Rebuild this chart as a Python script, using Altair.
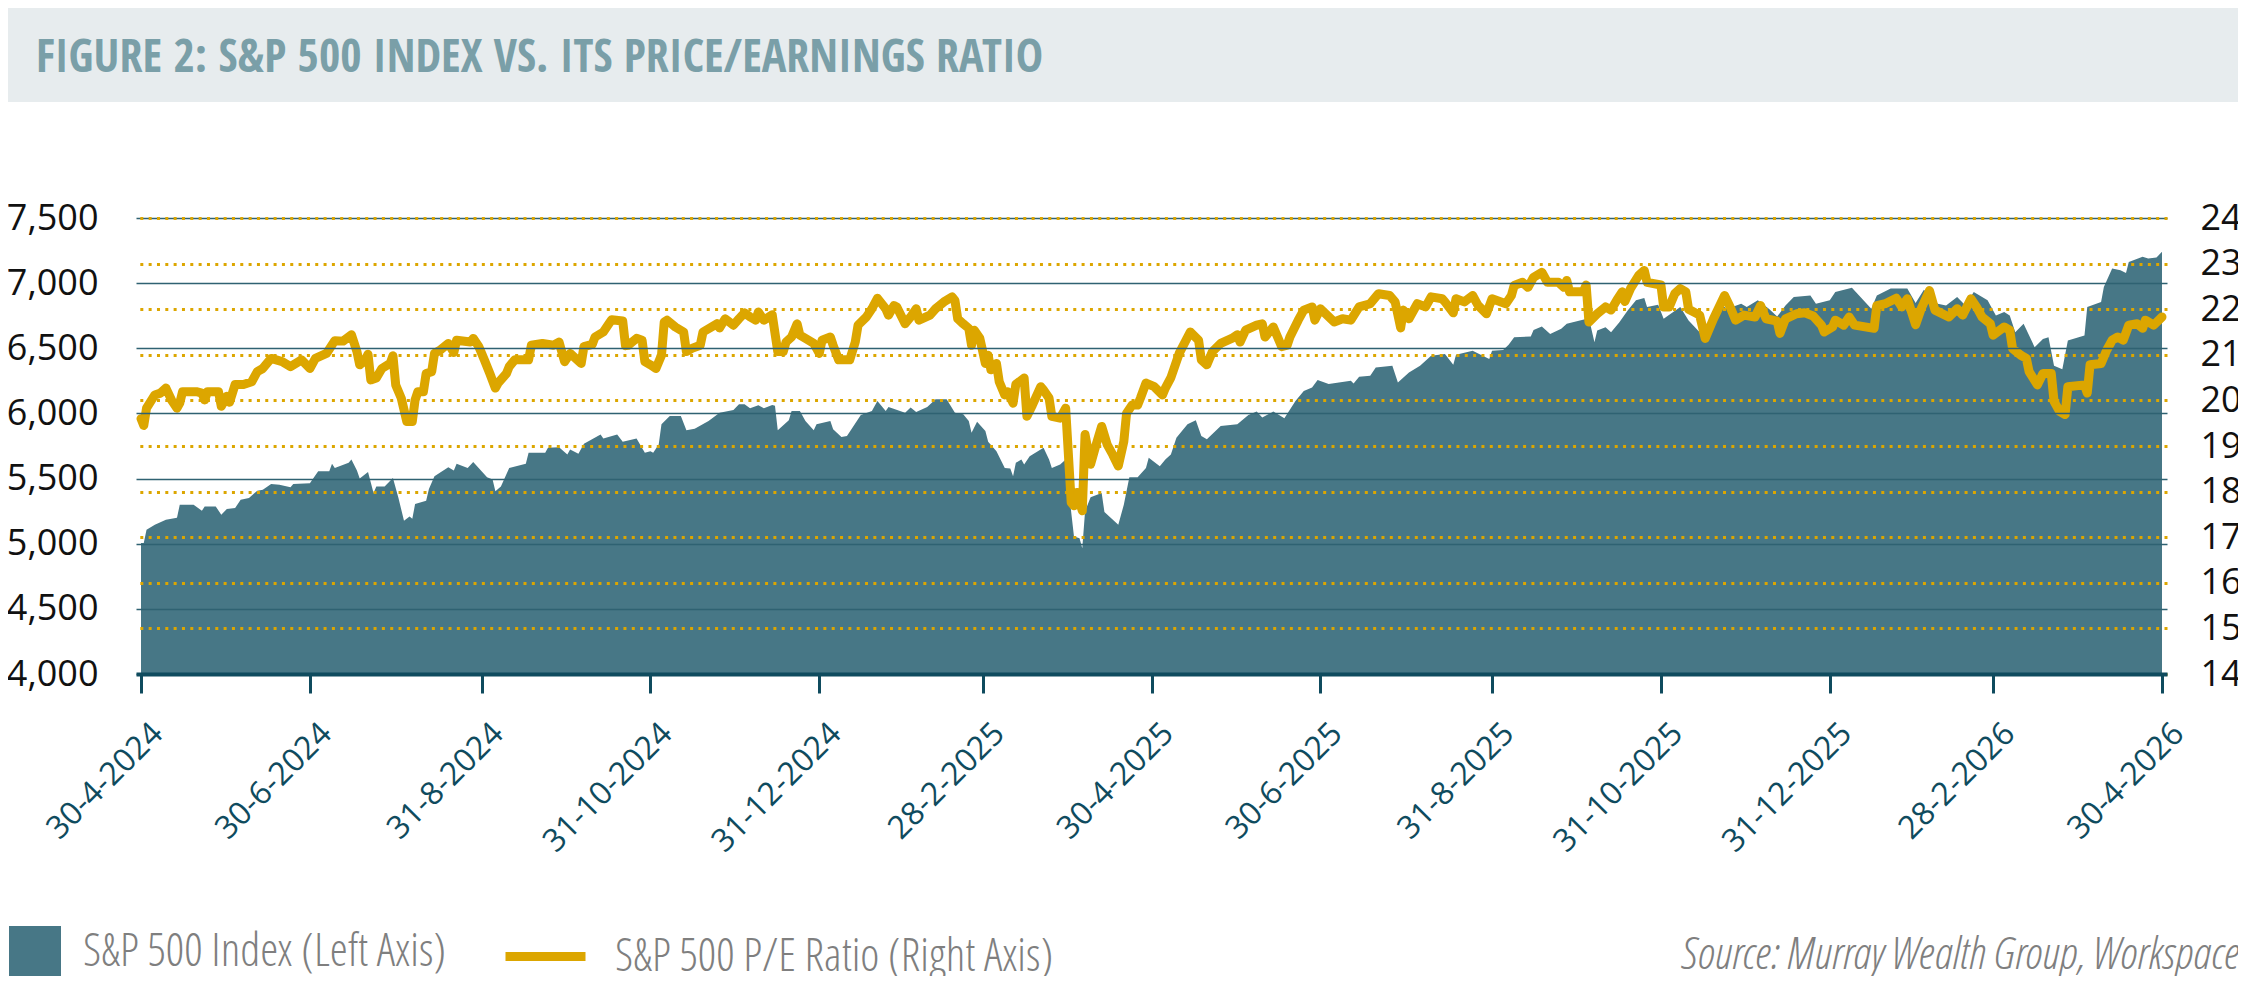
import altair as alt
import pandas as pd

START = "2024-04-30"

# ---- S&P 500 Index (left axis): days after 30-4-2024 and index level ----
idx_days = [0, 1, 2, 5, 9, 13, 14, 19, 22, 23, 27, 29, 31, 34, 36, 39, 42, 44, 47, 50,
            54, 55, 61, 64, 68, 69, 70, 75, 76, 78, 79, 82, 84, 85, 88, 91, 93, 95, 97, 98,
            99, 103, 104, 106, 111, 113, 114, 118, 120, 125, 127, 128, 130, 133, 139, 140, 146, 147, 151, 154,
            155, 158, 160, 166, 167, 172, 174, 179, 182,
            184, 185, 187, 188, 191, 195, 197, 200, 205, 209, 214, 216, 218, 220, 223, 225, 228, 229, 230, 234,
            235, 238, 240, 243, 244, 249, 250, 253, 255, 260, 264, 266, 269, 270, 276, 278, 280, 284, 287, 291,
            294, 297, 299, 300, 302, 305, 306, 309, 312, 314, 315, 316, 318, 319, 321, 326, 328, 329, 332, 334,
            335, 337, 339, 340, 341, 343, 347, 348, 353, 355, 357, 360, 363, 364, 368, 370,
            372, 374, 378, 381, 383, 385, 390, 396, 400, 403, 405, 409, 413, 417, 420, 423, 425, 429, 437, 438,
            440, 444, 446, 452, 454, 458, 462, 466, 471, 474, 475, 481, 487, 488, 492, 494, 496, 502, 503, 506,
            509, 513, 515, 523, 525, 526, 529, 531, 534, 537, 540, 543, 544, 548, 550, 556, 559,
            563, 565, 567, 571, 573, 578, 580, 584, 588, 591, 594, 597, 603, 605, 610, 612, 618, 620, 625, 627,
            632, 638, 641, 644, 649, 652, 656, 659, 662, 667, 670, 673, 675, 677, 680, 684, 687, 689, 691, 694,
            696, 702, 703, 708, 709, 712, 715, 717, 718, 723, 725, 728, 730]
idx_vals = [5005, 5005, 5107, 5145, 5183, 5200, 5299, 5299, 5253, 5286, 5286, 5222, 5266, 5274, 5338, 5350, 5407, 5415, 5459, 5453,
            5433, 5459, 5464, 5556, 5556, 5613, 5582, 5621, 5646, 5561, 5500, 5551, 5389, 5440, 5440, 5505, 5350, 5176, 5209, 5191,
            5304, 5330, 5420, 5518, 5587, 5561, 5613, 5582, 5628, 5510, 5492, 5402, 5440, 5582, 5613, 5698, 5698, 5736, 5741, 5685,
            5723, 5690, 5767, 5839, 5808, 5839, 5783, 5808, 5698,
            5710, 5698, 5762, 5916, 5981, 5981, 5870, 5883, 5942, 6006, 6027, 6070, 6070, 6040, 6063, 6040, 6065, 6058, 5870, 5947,
            6019, 6019, 5942, 5870, 5916, 5942, 5878, 5819, 5826, 5988, 6019, 6096, 6019, 6050, 6006, 6045, 6011, 6050, 6109, 6109,
            6006, 5993, 5942, 5852, 5937, 5865, 5783, 5710, 5582, 5577, 5518, 5621, 5646, 5608, 5672, 5736, 5646, 5582, 5608, 5646,
            5428, 5055, 5042, 4965, 5248, 5356, 5389, 5243, 5145, 5299, 5510, 5510, 5582, 5659, 5595, 5646,
            5685, 5813, 5916, 5947, 5826, 5801, 5904, 5916, 5988, 6014, 5968, 6014, 5963, 6096, 6173, 6199, 6256, 6225, 6250, 6230,
            6281, 6289, 6353, 6366, 6238, 6315, 6366, 6443, 6456, 6374, 6451, 6482, 6418, 6482, 6487, 6528, 6585, 6590, 6641, 6667,
            6610, 6649, 6688, 6731, 6546, 6636, 6662, 6623, 6700, 6790, 6868, 6886, 6816, 6834, 6726, 6816, 6713,
            6623, 6546, 6636, 6829, 6803, 6842, 6816, 6868, 6803, 6744, 6829, 6893, 6906, 6842, 6868, 6932, 6965, 6919, 6803, 6906,
            6958, 6958, 6847, 6950, 6842, 6829, 6893, 6829, 6932, 6868, 6752, 6778, 6752, 6623, 6688, 6508, 6572, 6585, 6366, 6340,
            6559, 6598, 6816, 6855, 6970, 7112, 7099, 7078, 7163, 7202, 7189, 7197, 7240]

# ---- S&P 500 P/E ratio (right axis): days after 30-4-2024 and ratio ----
pe_days = [0, 1, 2, 5, 7, 9, 11, 13, 14, 15, 20, 22, 23, 24, 28, 29, 31, 32, 34, 37,
           40, 42, 44, 47, 51, 54, 58, 61, 63, 67, 70, 73, 76, 78, 79, 81, 82, 83, 85, 87,
           90, 91, 92, 94, 96, 98, 99, 100, 102, 103, 105, 106, 108, 111, 113, 114, 119, 120, 122, 124,
           126, 128, 129, 132, 133, 135, 140, 141, 145, 149, 151, 153, 155, 159, 160, 163, 164, 167, 169, 170,
           174, 175, 176, 179, 181, 182,
           184, 186, 188, 189, 190, 193, 196, 197, 199, 202, 203, 208, 209, 211, 214, 216, 218, 220, 222, 223,
           225, 228, 230, 232, 233, 235, 237, 238, 240, 243, 245, 246, 249, 250, 252, 256, 258, 259, 262, 264,
           266, 269, 270, 272, 273, 276, 278, 280, 281, 285, 287, 290, 293, 294, 295, 297, 299, 300, 301, 303,
           305, 306, 307, 309, 310, 312, 313, 315, 316, 319, 320, 322, 325, 326, 328, 329, 332, 334, 336, 337,
           338, 340, 341, 343, 345, 347, 349, 351, 353, 355, 356, 358, 360, 361, 363, 366, 369, 370,
           372, 375, 379, 382, 383, 385, 387, 390, 394, 396, 397, 399, 403, 405, 406, 409, 412, 414, 415, 418,
           420, 423, 424, 426, 431, 434, 437, 440, 444, 447, 451, 453, 455, 456, 458, 461, 464, 466, 470, 471,
           474, 475, 478, 481, 483, 486, 488, 493, 495, 496, 499, 501, 503, 506, 508, 512, 514, 515, 516, 521,
           522, 523, 526, 529, 531, 533, 535, 536, 538, 541, 543, 544, 549, 550, 552, 554, 556, 558, 559,
           563, 565, 568, 572, 574, 576, 579, 583, 585, 587, 591, 592, 594, 598, 601, 604, 607, 608, 611, 612,
           615, 617, 619, 626, 627, 630, 634, 636, 638, 641, 643, 646, 648, 653, 656, 658, 661, 663, 665, 668,
           669, 673, 675, 676, 679, 681, 682, 685, 687, 690, 691, 693, 695, 696, 702, 703, 704, 708, 710, 712,
           714, 716, 718, 721, 723, 724, 727, 730]
pe_vals = [19.60, 19.45, 19.83, 20.12, 20.16, 20.27, 20.01, 19.83, 19.94, 20.19, 20.19, 20.16, 20.01, 20.19, 20.19, 19.87, 20.09, 19.96, 20.35, 20.35,
           20.41, 20.63, 20.70, 20.92, 20.85, 20.74, 20.89, 20.70, 20.92, 21.03, 21.31, 21.30, 21.44, 21.07, 20.78, 20.89, 21.01, 20.45, 20.49, 20.70,
           20.81, 20.98, 20.34, 20.05, 19.54, 19.54, 20.01, 20.19, 20.19, 20.59, 20.63, 21.03, 21.10, 21.25, 21.05, 21.32, 21.28, 21.36, 21.18, 20.89,
           20.59, 20.27, 20.38, 20.59, 20.74, 20.89, 20.89, 21.21, 21.25, 21.21, 21.28, 20.85, 21.03, 20.81, 21.18, 21.23, 21.39, 21.50, 21.68, 21.77,
           21.74, 21.20, 21.21, 21.36, 21.32, 20.85,
           20.78, 20.70, 20.99, 21.72, 21.76, 21.61, 21.50, 21.07, 21.14, 21.21, 21.50, 21.68, 21.59, 21.79, 21.65, 21.79, 21.92, 21.83, 21.76, 21.94,
           21.76, 21.88, 21.07, 21.07, 21.28, 21.39, 21.68, 21.43, 21.36, 21.25, 21.03, 21.32, 21.39, 21.21, 20.89, 20.89, 21.28, 21.65, 21.83, 22.01,
           22.24, 22.01, 21.87, 22.08, 22.05, 21.68, 21.83, 22.01, 21.76, 21.87, 22.01, 22.16, 22.27, 22.19, 21.79, 21.68, 21.58, 21.21, 21.54, 21.36,
           20.81, 20.99, 20.67, 20.81, 20.41, 20.12, 20.19, 19.94, 20.35, 20.49, 19.65, 19.90, 20.30, 20.23, 20.05, 19.65, 19.61, 19.83, 17.76, 17.69,
           17.98, 17.58, 19.25, 18.60, 19.03, 19.43, 19.03, 18.81, 18.56, 19.10, 19.72, 19.90, 19.90, 20.05, 20.38, 20.30, 20.12, 20.27,
           20.50, 21.03, 21.50, 21.32, 20.89, 20.78, 21.07, 21.25, 21.36, 21.44, 21.28, 21.54, 21.65, 21.68, 21.39, 21.61, 21.18, 21.21, 21.39, 21.76,
           21.98, 22.05, 21.76, 22.01, 21.72, 21.79, 21.76, 22.05, 22.12, 22.34, 22.30, 22.16, 21.59, 21.98, 21.79, 22.12, 22.05, 22.27, 22.23, 22.16,
           21.92, 22.23, 22.16, 22.30, 22.08, 21.90, 22.23, 22.12, 22.30, 22.52, 22.59, 22.48, 22.70, 22.81, 22.59, 22.59, 22.48, 22.63, 22.38, 22.39,
           22.53, 21.72, 21.90, 22.05, 21.98, 22.19, 22.38, 22.17, 22.45, 22.74, 22.85, 22.59, 22.53, 22.05, 22.05, 22.34, 22.45, 22.38, 22.00,
           21.87, 21.36, 21.79, 22.30, 22.05, 21.76, 21.87, 21.83, 22.08, 21.79, 21.74, 21.47, 21.79, 21.90, 21.92, 21.85, 21.65, 21.50, 21.61, 21.76,
           21.65, 21.83, 21.65, 21.58, 22.08, 22.12, 22.24, 22.05, 22.23, 21.66, 22.01, 22.41, 21.98, 21.83, 22.01, 21.87, 22.23, 22.05, 21.83, 21.68,
           21.43, 21.61, 21.54, 21.14, 20.99, 20.92, 20.63, 20.34, 20.59, 20.59, 19.98, 19.76, 19.69, 20.30, 20.34, 20.16, 20.78, 20.81, 21.10, 21.32,
           21.39, 21.32, 21.65, 21.68, 21.58, 21.76, 21.65, 21.83]

tick_dates = ["2024-04-30", "2024-06-30", "2024-08-31", "2024-10-31", "2024-12-31", "2025-02-28",
              "2025-04-30", "2025-06-30", "2025-08-31", "2025-10-31", "2025-12-31", "2026-02-28", "2026-04-30"]
left_ticks = [4000, 4500, 5000, 5500, 6000, 6500, 7000, 7500]
right_ticks = [14, 15, 16, 17, 18, 19, 20, 21, 22, 23, 24]

TITLE = "FIGURE 2: S&P 500 INDEX VS. ITS PRICE/EARNINGS RATIO"
IDX_LABEL = "S&P 500 Index (Left Axis)"
PE_LABEL = "S&P 500 P/E Ratio (Right Axis)"
SOURCE = "Source: Murray Wealth Group, Workspace"

# ---- styles ----
TEAL = "#477786"
GOLD = "#dca600"
GRID = "#2f6272"
AXIS = "#0f4b5e"
BAND = "#e7ecee"
TITLE_C = "#7a9fa8"
GRAY = "#7f7f7f"
COND = "'Open Sans Condensed', 'Liberation Sans Narrow', 'Open Sans', sans-serif"
COND_LIGHT = "'Open Sans Condensed Light', 'Liberation Sans Narrow', 'Open Sans Condensed', 'Open Sans', sans-serif"
BASE = "Open Sans"

start = pd.Timestamp(START)
idx_df = pd.DataFrame({
    "date": [(start + pd.Timedelta(days=d)).strftime("%Y-%m-%d") for d in idx_days],
    "value": idx_vals,
    "series": IDX_LABEL,
})
pe_df = pd.DataFrame({
    "date": [(start + pd.Timedelta(days=d)).strftime("%Y-%m-%d") for d in pe_days],
    "value": pe_vals,
    "series": PE_LABEL,
})


def dt(s):
    y, m, d = (int(p) for p in s.split("-"))
    return alt.DateTime(year=y, month=m, date=d, utc=True)


x_scale = alt.Scale(type="utc", domain=[dt(tick_dates[0]), dt(tick_dates[-1])], padding=5)
x_axis = alt.Axis(
    values=[dt(s) for s in tick_dates],
    labelExpr="utcFormat(datum.value, '%-d-%-m-%Y')",
    labelAngle=-45, labelAlign="right", labelBaseline="middle",
    labelOffset=16, labelPadding=35, labelFontSize=32, labelFont=BASE, labelColor=AXIS,
    labelFlush=False, labelOverlap=False,
    tickColor=AXIS, tickWidth=3, tickSize=19,
    domainColor=AXIS, domainWidth=4, grid=False, title=None, zindex=1,
)

# thousands separator built explicitly: 7500 -> "7,500"
left_label_expr = "floor(datum.value / 1000) + ',' + slice('000' + (datum.value % 1000), -3)"

area = alt.Chart(idx_df).mark_area(interpolate="linear").encode(
    x=alt.X("date:T", scale=x_scale, axis=x_axis),
    y=alt.Y("value:Q", scale=alt.Scale(domain=[4000, 7500], nice=False, zero=False),
            axis=alt.Axis(orient="left", values=left_ticks, labelExpr=left_label_expr, grid=True,
                          gridColor=GRID, gridWidth=1.5, domain=False, ticks=False, tickSize=0,
                          labelPadding=38, labelFontSize=36, labelFont=BASE, labelColor="#111111",
                          labelLimit=400, title=None, zindex=1)),
    y2=alt.datum(4000),
    fill=alt.Fill("series:N", scale=alt.Scale(domain=[IDX_LABEL], range=[TEAL]),
                  legend=alt.Legend(title=None, orient="none", legendX=-127, legendY=708,
                                    symbolType="square", symbolSize=2704, symbolStrokeWidth=0,
                                    labelFont=COND_LIGHT, labelFontSize=46, labelFontWeight=300,
                                    labelColor=GRAY, labelOffset=22, labelLimit=1000, padding=0)),
)

line = alt.Chart(pe_df).mark_line(strokeWidth=9, strokeJoin="round", strokeCap="round").encode(
    x=alt.X("date:T", scale=x_scale, axis=x_axis),
    y=alt.Y("value:Q", scale=alt.Scale(domain=[14, 24], nice=False, zero=False),
            axis=alt.Axis(orient="right", values=right_ticks, grid=True, gridColor=GOLD,
                          gridDash=[3, 5.33], gridWidth=3, domain=False, ticks=False, tickSize=0,
                          labelPadding=33, labelFontSize=36, labelFont=BASE, labelColor="#111111",
                          title=None, zindex=1)),
    stroke=alt.Stroke("series:N", scale=alt.Scale(domain=[PE_LABEL], range=[GOLD]),
                      legend=alt.Legend(title=None, orient="none", legendX=365, legendY=694,
                                        symbolType="stroke", symbolSize=6400, symbolStrokeWidth=9,
                                        labelFont=COND_LIGHT, labelFontSize=46, labelFontWeight=300,
                                        labelColor=GRAY, labelOffset=25, labelLimit=1000, padding=0)),
)

title_df = pd.DataFrame({"t": [TITLE]})
band = alt.Chart(title_df).mark_rect(color=BAND).encode(
    x=alt.value(-132), x2=alt.value(2106), y=alt.value(-213), y2=alt.value(-116)
)
title = alt.Chart(title_df).mark_text(
    align="left", baseline="alphabetic", font=COND, fontSize=46, fontWeight=600, color=TITLE_C
).encode(x=alt.value(-100), y=alt.value(-146), text="t:N")

source = alt.Chart(pd.DataFrame({"s": [SOURCE]})).mark_text(
    align="right", baseline="alphabetic", font=COND_LIGHT, fontSize=45, fontStyle="italic",
    fontWeight=300, color=GRAY
).encode(x=alt.value(2103), y=alt.value(751), text="s:N")

chart = alt.layer(band, title, area, line, source).resolve_scale(
    y="independent"
).properties(
    width=2031, height=456,
    autosize=alt.AutoSizeParams(type="none"),
    padding={"left": 128, "top": 210, "right": 71, "bottom": 302},
).configure_view(stroke=None)

chart.save("out.html", embed_options={"renderer": "svg", "actions": False})
